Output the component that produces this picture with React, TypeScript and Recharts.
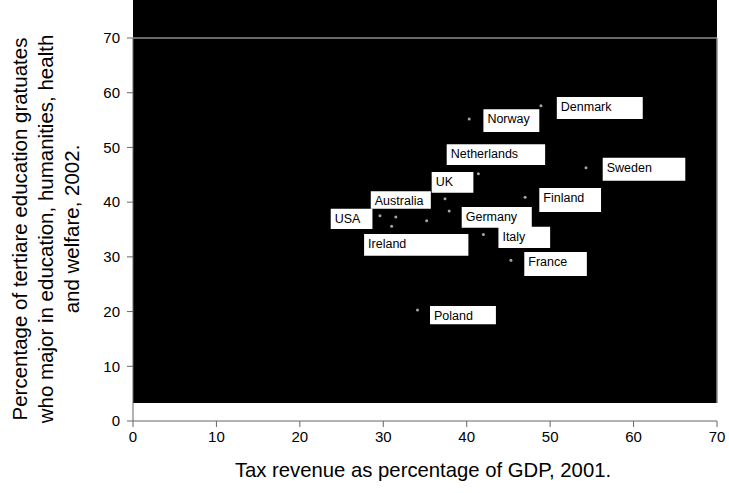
import { ScatterChart, Scatter, XAxis, YAxis, ReferenceArea, ReferenceLine } from "recharts";

// tax revenue (% of GDP, 2001) vs share of graduates in education/humanities/health/welfare (2002)
const countries = ["Denmark", "Norway", "Netherlands", "Sweden", "UK", "Finland", "Germany", "USA", "Australia", "Ireland", "Spain", "Italy", "France", "Poland"];
const taxRevenue = [48.9, 40.3, 41.4, 54.3, 37.4, 47.0, 37.9, 29.6, 31.5, 31.0, 35.2, 42.0, 45.3, 34.1];
const graduates = [57.6, 55.2, 45.2, 46.3, 40.6, 40.9, 38.4, 37.5, 37.3, 35.6, 36.6, 34.1, 29.4, 20.3];

// label boxes, in axis units: [left, right, bottom, top]
const labelNames = ["Denmark", "Norway", "Netherlands", "Sweden", "UK", "Finland", "Australia", "USA", "Germany", "Italy", "Ireland", "France", "Poland"];
const labelBoxes = [
  [50.8, 61.1, 55.2, 59.2],
  [42.0, 48.7, 52.8, 57.0],
  [37.6, 49.4, 46.8, 50.6],
  [56.3, 66.2, 43.9, 48.1],
  [35.8, 40.8, 41.7, 45.5],
  [48.7, 56.1, 38.2, 42.6],
  [28.5, 35.7, 38.8, 42.0],
  [23.7, 28.7, 35.1, 38.8],
  [39.4, 47.8, 35.3, 39.1],
  [43.8, 50.0, 31.6, 35.5],
  [27.7, 40.2, 30.2, 34.2],
  [46.9, 54.4, 26.5, 30.9],
  [35.6, 43.5, 17.7, 21.0],
];

const xTicks = [0, 10, 20, 30, 40, 50, 60, 70];
const yTicks = [0, 10, 20, 30, 40, 50, 60, 70];

const points = countries.map((name, i) => ({ name, x: taxRevenue[i], y: graduates[i] }));

const font = "Arial, 'Liberation Sans', sans-serif";

function Dot(props: any) {
  return <circle cx={props.cx} cy={props.cy} r={1.5} fill="#a6a6a6" />;
}

function BoxText(props: any) {
  const vb = props.viewBox || {};
  return (
    <text x={vb.x + 4} y={vb.y + 14} fontSize={12.5} fill="#000" fontFamily={font}>
      {props.text}
    </text>
  );
}

function XTitle() {
  return (
    <text x={423} y={477} textAnchor="middle" fontSize={20.3} fill="#000" fontFamily={font}>
      Tax revenue as percentage of GDP, 2001.
    </text>
  );
}

function YTitle() {
  const lines = [
    "Percentage of tertiare education gratuates",
    "who major in education, humanities, health",
    "and welfare, 2002.",
  ];
  return (
    <g>
      {lines.map((l, i) => (
        <text
          key={i}
          transform={`translate(${27 + i * 26}, 229) rotate(-90)`}
          textAnchor="middle"
          fontSize={20.5}
          fill="#000"
          fontFamily={font}
        >
          {l}
        </text>
      ))}
    </g>
  );
}

export default function App() {
  return (
    <div style={{ width: 729, height: 493, background: "#fff" }}>
      <style>{"body{margin:0}"}</style>
      <ScatterChart width={729} height={493} margin={{ top: 38, right: 12, left: 0, bottom: 0 }}>
        <XAxis
          type="number"
          dataKey="x"
          domain={[0, 70]}
          ticks={xTicks}
          interval={0}
          height={72}
          stroke="#666"
          tickSize={6}
          tickMargin={4}
          tick={{ fill: "#000", fontSize: 15, fontFamily: font }}
          label={<XTitle />}
        />
        <YAxis
          type="number"
          dataKey="y"
          domain={[0, 70]}
          ticks={yTicks}
          interval={0}
          width={133}
          stroke="#666"
          tickSize={6}
          tickMargin={7}
          tick={{ fill: "#000", fontSize: 15, fontFamily: font }}
          label={<YTitle />}
        />
        <ReferenceArea x1={0} x2={70} y1={3.3} y2={77} fill="#000" fillOpacity={1} stroke="none" ifOverflow="visible" />
        <ReferenceLine y={70} stroke="#8c8c8c" strokeWidth={1.5} />
        <ReferenceLine segment={[{ x: 70, y: 3.3 }, { x: 70, y: 70 }]} stroke="#8c8c8c" strokeWidth={1.5} />
        {labelBoxes.map((b, i) => (
          <ReferenceArea
            key={labelNames[i]}
            x1={b[0]}
            x2={b[1]}
            y1={b[2]}
            y2={b[3]}
            fill="#fff"
            fillOpacity={1}
            stroke="none"
            label={<BoxText text={labelNames[i]} />}
          />
        ))}
        <Scatter data={points} shape={<Dot />} isAnimationActive={false} />
      </ScatterChart>
    </div>
  );
}
